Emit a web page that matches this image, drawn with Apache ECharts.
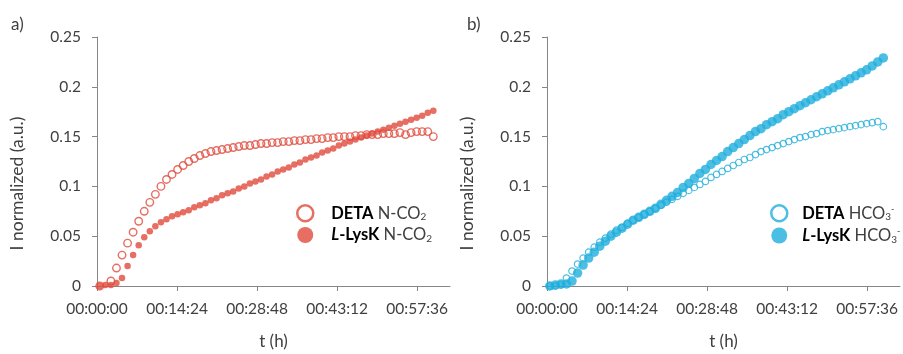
<!DOCTYPE html>
<html>
<head>
<meta charset="utf-8">
<script src="https://cdn.jsdelivr.net/npm/echarts@6/dist/echarts.min.js"></script>
<style>
  html, body { margin: 0; padding: 0; background: #ffffff; }
  #chart { width: 903px; height: 354px; }
</style>
</head>
<body>
<div id="chart"></div>
<script>
// Sampling times in minutes since start (one reading per minute)
const timesMin = [
  0.5, 1.5, 2.5, 3.5, 4.5, 5.5, 6.5, 7.5, 8.5, 9.5,
  10.5, 11.5, 12.5, 13.5, 14.5, 15.5, 16.5, 17.5, 18.5, 19.5,
  20.5, 21.5, 22.5, 23.5, 24.5, 25.5, 26.5, 27.5, 28.5, 29.5,
  30.5, 31.5, 32.5, 33.5, 34.5, 35.5, 36.5, 37.5, 38.5, 39.5,
  40.5, 41.5, 42.5, 43.5, 44.5, 45.5, 46.5, 47.5, 48.5, 49.5,
  50.5, 51.5, 52.5, 53.5, 54.5, 55.5, 56.5, 57.5, 58.5, 59.5,
  60.5
];

// Panel a) N-CO2 signal
const detaNCO2 = [
  0.000, -0.001, 0.005, 0.018, 0.031, 0.043, 0.054, 0.065, 0.075, 0.084,
  0.092, 0.100, 0.107, 0.112, 0.117, 0.121, 0.125, 0.128, 0.131, 0.133,
  0.135, 0.136, 0.137, 0.138, 0.139, 0.140, 0.141, 0.141, 0.142, 0.143,
  0.143, 0.144, 0.144, 0.145, 0.145, 0.146, 0.146, 0.147, 0.147, 0.148,
  0.148, 0.149, 0.149, 0.150, 0.150, 0.150, 0.151, 0.151, 0.152, 0.152,
  0.152, 0.153, 0.153, 0.153, 0.154, 0.152, 0.154, 0.155, 0.155, 0.155,
  0.150
];
const lysNCO2 = [
  0.000, 0.001, 0.001, 0.003, 0.008, 0.020, 0.031, 0.041, 0.049, 0.055,
  0.060, 0.064, 0.067, 0.070, 0.072, 0.074, 0.076, 0.079, 0.081, 0.083,
  0.086, 0.088, 0.091, 0.093, 0.095, 0.098, 0.100, 0.103, 0.105, 0.107,
  0.110, 0.112, 0.115, 0.117, 0.119, 0.122, 0.124, 0.127, 0.129, 0.131,
  0.134, 0.136, 0.138, 0.141, 0.143, 0.145, 0.147, 0.149, 0.151, 0.153,
  0.155, 0.157, 0.159, 0.161, 0.163, 0.165, 0.167, 0.169, 0.171, 0.174,
  0.176
];

// Panel b) HCO3- signal
const detaHCO3 = [
  0.000, 0.000, 0.001, 0.008, 0.015, 0.022, 0.028, 0.034, 0.039, 0.044,
  0.048, 0.052, 0.056, 0.059, 0.063, 0.066, 0.069, 0.072, 0.075, 0.078,
  0.081, 0.084, 0.087, 0.090, 0.093, 0.096, 0.099, 0.102, 0.105, 0.109,
  0.112, 0.115, 0.118, 0.121, 0.124, 0.127, 0.129, 0.132, 0.135, 0.137,
  0.139, 0.141, 0.143, 0.145, 0.147, 0.149, 0.150, 0.152, 0.153, 0.155,
  0.156, 0.157, 0.158, 0.159, 0.160, 0.161, 0.162, 0.163, 0.164, 0.165,
  0.160
];
const lysHCO3 = [
  0.000, 0.001, 0.002, 0.002, 0.005, 0.013, 0.021, 0.028, 0.034, 0.040,
  0.045, 0.050, 0.054, 0.058, 0.062, 0.066, 0.069, 0.072, 0.075, 0.078,
  0.082, 0.086, 0.090, 0.094, 0.099, 0.103, 0.108, 0.113, 0.117, 0.122,
  0.126, 0.130, 0.135, 0.139, 0.143, 0.147, 0.151, 0.155, 0.158, 0.162,
  0.165, 0.168, 0.172, 0.175, 0.178, 0.181, 0.184, 0.187, 0.190, 0.193,
  0.196, 0.199, 0.202, 0.205, 0.208, 0.211, 0.214, 0.217, 0.221, 0.225,
  0.229
];

// Axis tick positions (minutes) and limits
const xTicksMin = [0, 14.4, 28.8, 43.2, 57.6];
const xMaxMin = 63.5;
const yMin = 0, yMax = 0.25, yStep = 0.05;

const seriesNames = ['DETA N-CO2', 'L-LysK N-CO2', 'DETA HCO3-', 'L-LysK HCO3-'];

const RED = '#E04A3C';
const BLUE = '#1FAEDC';
const TEXT = '#404040';
const AXIS = '#868686';
const FONT = 'Lato, "Open Sans", sans-serif';

function pairs(xs, ys) { return xs.map((x, i) => [x, ys[i]]); }

function hms(min) {
  const s = Math.round(min * 60);
  const h = Math.floor(s / 3600), m = Math.floor((s % 3600) / 60), sec = s % 60;
  const p = v => String(v).padStart(2, '0');
  return p(h) + ':' + p(m) + ':' + p(sec);
}

function makeX(gridIndex) {
  return {
    type: 'value', gridIndex, min: 0, max: xMaxMin,
    name: 't (h)', nameLocation: 'middle', nameGap: 47,
    nameTextStyle: { color: TEXT, fontFamily: FONT, fontSize: 17 },
    axisLine: { show: true, onZero: false, lineStyle: { color: AXIS, width: 1 } },
    axisTick: { show: true, length: 5, customValues: xTicksMin, lineStyle: { color: AXIS } },
    axisLabel: { customValues: xTicksMin, formatter: v => hms(v), color: TEXT, fontFamily: FONT, fontSize: 15.5, margin: 15, hideOverlap: false },
    splitLine: { show: false }
  };
}

function makeY(gridIndex) {
  return {
    type: 'value', gridIndex, min: yMin, max: yMax, interval: yStep,
    name: 'I normalized (a.u.)', nameLocation: 'middle', nameGap: 71,
    nameTextStyle: { color: TEXT, fontFamily: FONT, fontSize: 17.5, padding: [0, 44, 0, 0] },
    axisLine: { show: true, lineStyle: { color: AXIS, width: 1 } },
    axisTick: { show: true, length: 5, lineStyle: { color: AXIS } },
    axisLabel: { color: TEXT, fontFamily: FONT, fontSize: 15.5, margin: 16,
      formatter: v => String(Math.round(v * 100) / 100) },
    splitLine: { show: false }
  };
}

const richText = {
  b: { fontFamily: FONT, fontSize: 16.5, fontWeight: 'bold', color: '#000', lineHeight: 18 },
  bi: { fontFamily: FONT, fontSize: 16.5, fontWeight: 'bold', fontStyle: 'italic', color: '#000', lineHeight: 18 },
  n: { fontFamily: FONT, fontSize: 16.5, color: TEXT, lineHeight: 18 },
  sub: { fontFamily: FONT, fontSize: 10, color: TEXT, lineHeight: 8, verticalAlign: 'bottom' },
  sup: { fontFamily: FONT, fontSize: 9, color: TEXT, lineHeight: 8, verticalAlign: 'top' }
};

function legendLabel(name) {
  const parts = {
    'DETA N-CO2': '{b|DETA}{n| N-CO}{sub|2}',
    'L-LysK N-CO2': '{bi|L}{b|-LysK}{n| N-CO}{sub|2}',
    'DETA HCO3-': '{b|DETA}{n| HCO}{sub|3}{sup|-}',
    'L-LysK HCO3-': '{bi|L}{b|-LysK}{n| HCO}{sub|3}{sup|-}'
  };
  return parts[name];
}

function makeLegend(left, textGap, openName, fullName, color) {
  return {
    orient: 'vertical', left, top: 199, itemWidth: textGap, itemHeight: 16, itemGap: 4,
    selectedMode: false,
    textStyle: { rich: richText, fontFamily: FONT, fontSize: 16, color: TEXT },
    formatter: legendLabel,
    data: [
      { name: openName, icon: 'circle', itemStyle: { color: '#ffffff', borderColor: color, borderWidth: 2.5 } },
      { name: fullName, icon: 'circle', itemStyle: { color: color, borderWidth: 0 } }
    ]
  };
}

const chart = echarts.init(document.getElementById('chart'), null, { renderer: 'canvas' });

chart.setOption({
  animation: false,
  backgroundColor: '#ffffff',
  grid: [
    { left: 97, top: 37, width: 353, height: 249, outerBoundsMode: 'none', containLabel: false },
    { left: 547, top: 37, width: 353, height: 249, outerBoundsMode: 'none', containLabel: false }
  ],
  xAxis: [makeX(0), makeX(1)],
  yAxis: [makeY(0), makeY(1)],
  legend: [
    makeLegend(291, 42, seriesNames[0], seriesNames[1], RED),
    makeLegend(765, 36, seriesNames[2], seriesNames[3], BLUE)
  ],
  graphic: [
    { type: 'text', left: 11, top: 16, style: { text: 'a)', fill: TEXT, font: '17px ' + FONT } },
    { type: 'text', left: 467, top: 16, style: { text: 'b)', fill: TEXT, font: '17px ' + FONT } }
  ],
  series: [
    {
      name: seriesNames[1], type: 'scatter', xAxisIndex: 0, yAxisIndex: 0,
      symbol: 'circle', symbolSize: 6.5,
      itemStyle: { color: RED },
      data: pairs(timesMin, lysNCO2), z: 2
    },
    {
      name: seriesNames[0], type: 'scatter', xAxisIndex: 0, yAxisIndex: 0,
      symbol: 'circle', symbolSize: 7.5,
      itemStyle: { color: 'rgba(255,255,255,0)', borderColor: RED, borderWidth: 1.4 },
      data: pairs(timesMin, detaNCO2), z: 3
    },
    {
      name: seriesNames[3], type: 'scatter', xAxisIndex: 1, yAxisIndex: 1,
      symbol: 'circle', symbolSize: 9.5,
      itemStyle: { color: BLUE },
      data: pairs(timesMin, lysHCO3), z: 2
    },
    {
      name: seriesNames[2], type: 'scatter', xAxisIndex: 1, yAxisIndex: 1,
      symbol: 'circle', symbolSize: 6.5,
      itemStyle: { color: 'rgba(255,255,255,0)', borderColor: BLUE, borderWidth: 1.2 },
      data: pairs(timesMin, detaHCO3), z: 3
    }
  ]
});
</script>
</body>
</html>
